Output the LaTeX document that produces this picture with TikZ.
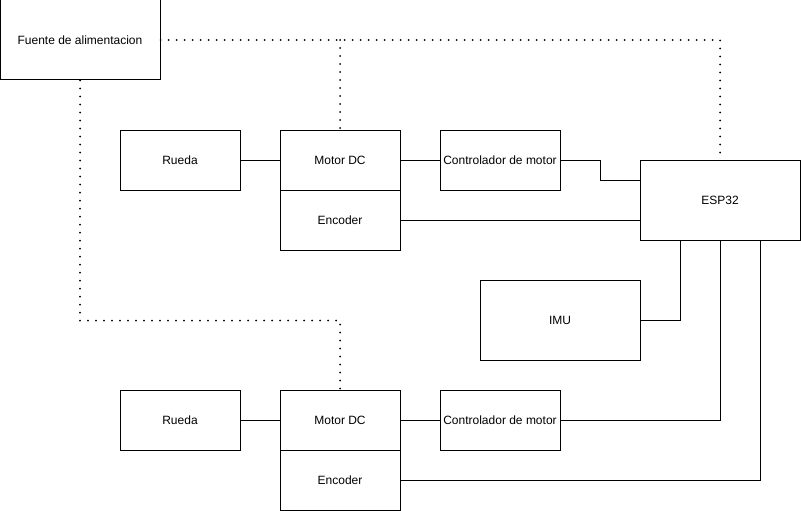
\documentclass[tikz,border=0pt]{standalone}
\usepackage{fontspec}
\setmainfont{Liberation Sans}
\begin{document}
\begin{tikzpicture}[x=1pt,y=-1pt,
    block/.style={draw,line width=1pt,minimum width=120pt,minimum height=60pt,inner sep=0pt,font=\fontsize{12}{14}\selectfont},
    wire/.style={line width=1pt},
    power/.style={line width=2pt,dash pattern=on 0pt off 8pt,line cap=round}]
        \useasboundingbox (0,0) rectangle (801,511);

        % Power supply and controller
        \node[block,minimum width=160pt,minimum height=80pt] (fuente) at (80,40) {Fuente de alimentacion};
        \node[block,minimum width=160pt,minimum height=80pt] (esp) at (720,200) {ESP32};
        \node[block,minimum width=160pt,minimum height=80pt] (imu) at (560,320) {IMU};

        % Upper wheel
        \node[block] (rueda1) at (180,160) {Rueda};
        \node[block] (motor1) at (340,160) {Motor DC};
        \node[block] (encoder1) at (340,220) {Encoder};
        \node[block] (control1) at (500,160) {Controlador de motor};

        % Lower wheel
        \node[block] (rueda2) at (180,420) {Rueda};
        \node[block] (motor2) at (340,420) {Motor DC};
        \node[block] (encoder2) at (340,480) {Encoder};
        \node[block] (control2) at (500,420) {Controlador de motor};

        % Signal wires
        \draw[wire] (rueda1) -- (motor1);
        \draw[wire] (motor1) -- (control1);
        \draw[wire] (control1.east) -- ++(40,0) |- ([yshift=20pt]esp.west);
        \draw[wire] (encoder1.east) -- (encoder1.east -| esp.west);
        \draw[wire] ([xshift=-40pt]esp.south) |- (imu.east);
        \draw[wire] (esp.south) |- (control2.east);
        \draw[wire] ([xshift=40pt]esp.south) |- (encoder2.east);
        \draw[wire] (rueda2) -- (motor2);
        \draw[wire] (motor2) -- (control2);

        % Power lines
        \draw[power] (fuente.east) -- (fuente.east -| esp.north) -- (esp.north);
        \draw[power] (fuente.east -| motor1.north) -- (motor1.north);
        \draw[power] (fuente.south) -- ++(0,240) -| (motor2.north);
    \end{tikzpicture}
\end{document}
